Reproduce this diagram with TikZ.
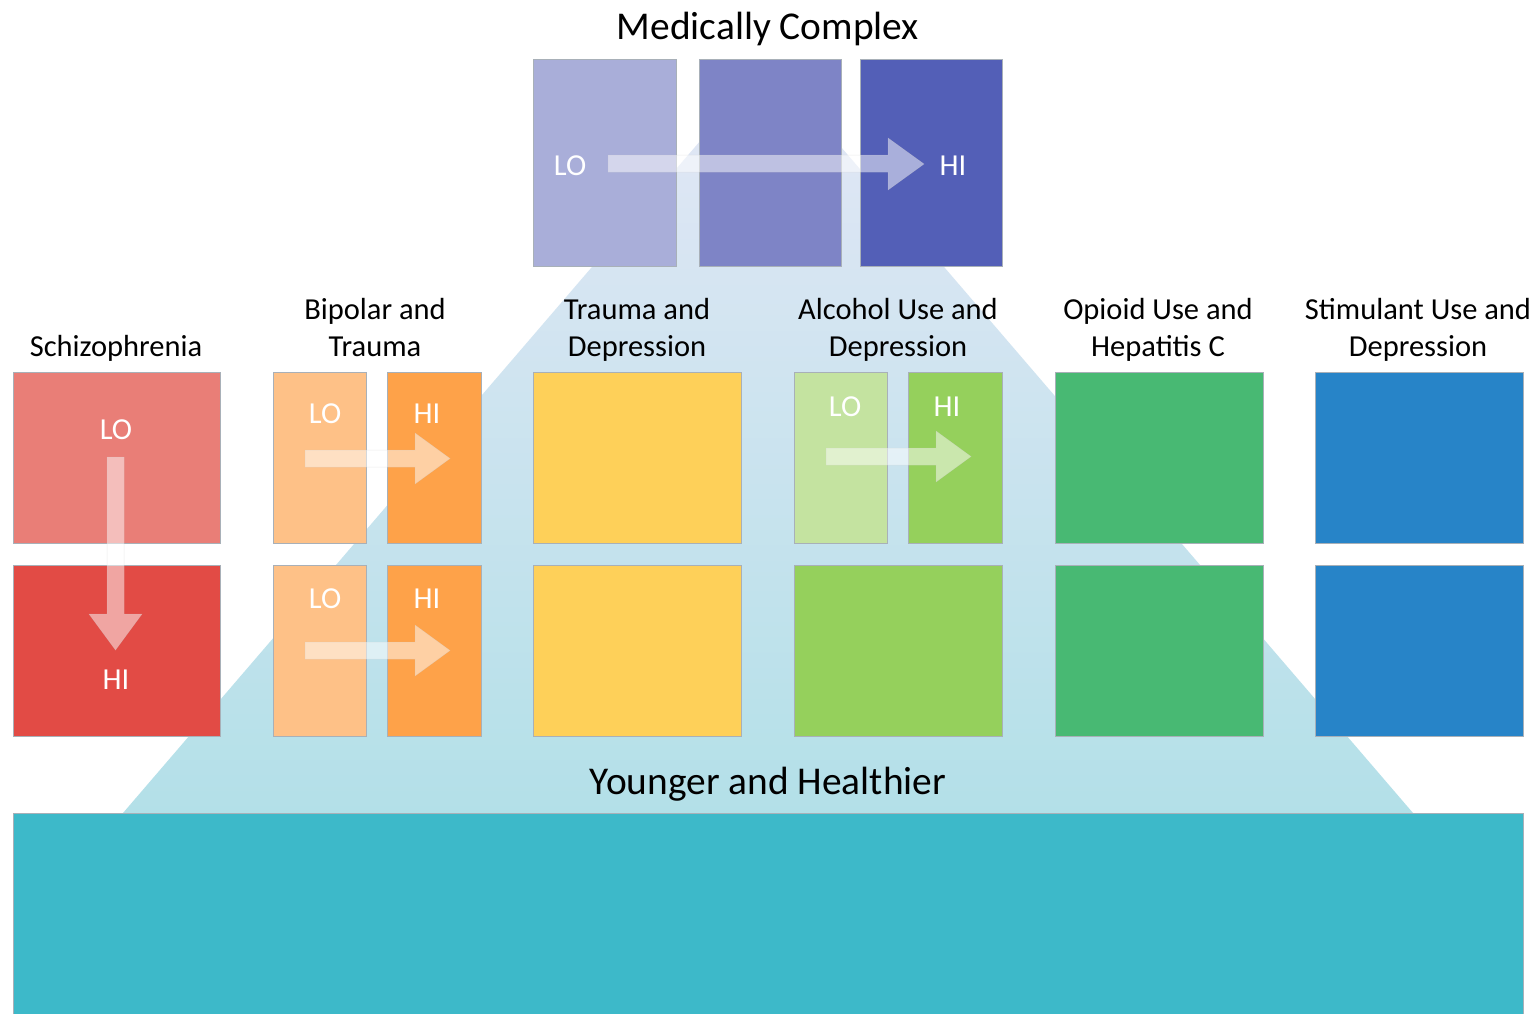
\documentclass[tikz,border=0pt]{standalone}
\usepackage{fontspec}
\setmainfont{Carlito}
\definecolor{mcA}{HTML}{A9AED9}
\definecolor{mcB}{HTML}{7E84C6}
\definecolor{mcC}{HTML}{535FB7}
\definecolor{schLo}{HTML}{E97E77}
\definecolor{schHi}{HTML}{E24B45}
\definecolor{bpLo}{HTML}{FEC187}
\definecolor{bpHi}{HTML}{FEA249}
\definecolor{yel}{HTML}{FED059}
\definecolor{alLo}{HTML}{C4E3A0}
\definecolor{alHi}{HTML}{95D05C}
\definecolor{opi}{HTML}{48B973}
\definecolor{stim}{HTML}{2784C8}
\definecolor{teal}{HTML}{3DB9C9}
\definecolor{triTop}{HTML}{E4E7F6}
\definecolor{triBot}{HTML}{B3E0E8}
\definecolor{edge}{HTML}{A8B0B8}
\begin{document}
\begin{tikzpicture}[x=1pt,y=-1pt,
  box/.style={draw=edge,line width=0.8pt,inner sep=0pt,outer sep=0pt,anchor=north west},
  lbl/.style={font=\fontsize{30.5}{37}\selectfont,align=center,text=black,inner sep=0pt},
  big/.style={font=\fontsize{39.4}{46}\selectfont,text=black,inner sep=0pt},
  lohi/.style={font=\fontsize{30.5}{34}\selectfont,text=white,inner sep=0pt},
  blockarrow/.style={fill=white,fill opacity=0.5,draw=gray!40,draw opacity=0.35,line width=0.5pt}]
\useasboundingbox (0,0) rectangle (1536,1014);
\fill[white] (0,0) rectangle (1536,1014);
% pyramid
\shade[top color=triTop,bottom color=triBot] (768,62) -- (1413,813) -- (123,813) -- cycle;
% base
\node[box,draw=edge,fill=teal,minimum width=1510pt,minimum height=201pt] (base) at (13,813) {};
% Medically complex
\node[box,fill=mcA,minimum width=143pt,minimum height=207pt] (mc1) at (533,59) {};
\node[box,fill=mcB,minimum width=142pt,minimum height=207pt] (mc2) at (699,59) {};
\node[box,fill=mcC,minimum width=142pt,minimum height=207pt] (mc3) at (860,59) {};
% Schizophrenia
\node[box,fill=schLo,minimum width=207pt,minimum height=171pt] (s1) at (13,372) {};
\node[box,fill=schHi,minimum width=207pt,minimum height=171pt] (s2) at (13,565) {};
% Bipolar
\node[box,fill=bpLo,minimum width=93pt,minimum height=171pt] (b1) at (273,372) {};
\node[box,fill=bpHi,minimum width=94pt,minimum height=171pt] (b2) at (387,372) {};
\node[box,fill=bpLo,minimum width=93pt,minimum height=171pt] (b3) at (273,565) {};
\node[box,fill=bpHi,minimum width=94pt,minimum height=171pt] (b4) at (387,565) {};
% Trauma
\node[box,fill=yel,minimum width=208pt,minimum height=171pt] (t1) at (533,372) {};
\node[box,fill=yel,minimum width=208pt,minimum height=171pt] (t2) at (533,565) {};
% Alcohol
\node[box,fill=alLo,minimum width=93pt,minimum height=171pt] (a1) at (794,372) {};
\node[box,fill=alHi,minimum width=94pt,minimum height=171pt] (a2) at (908,372) {};
\node[box,fill=alHi,minimum width=208pt,minimum height=171pt] (a3) at (794,565) {};
% Opioid
\node[box,fill=opi,minimum width=208pt,minimum height=171pt] (o1) at (1055,372) {};
\node[box,fill=opi,minimum width=208pt,minimum height=171pt] (o2) at (1055,565) {};
% Stimulant
\node[box,fill=stim,minimum width=208pt,minimum height=171pt] (st1) at (1315,372) {};
\node[box,fill=stim,minimum width=208pt,minimum height=171pt] (st2) at (1315,565) {};
% block arrows
\path[blockarrow] (608,155) -- (888,155) -- (888,138) -- (924,164) -- (888,190) -- (888,172) -- (608,172) -- cycle;
\path[blockarrow] (107,457) -- (124,457) -- (124,614) -- (142,614) -- (115.5,650) -- (89,614) -- (107,614) -- cycle;
\path[blockarrow] (305,450) -- (415,450) -- (415,433) -- (450,458.5) -- (415,484) -- (415,467) -- (305,467) -- cycle;
\path[blockarrow] (305,642) -- (415,642) -- (415,625) -- (450,650.5) -- (415,676) -- (415,659) -- (305,659) -- cycle;
\path[blockarrow] (826,448) -- (936,448) -- (936,431) -- (971,456.5) -- (936,482) -- (936,465) -- (826,465) -- cycle;
% LO / HI labels
\node[lohi] (mclo) at (570,166) {LO};
\node[lohi] (mchi) at (953,166) {HI};
\node[lohi] (slo) at (116,430) {LO};
\node[lohi] (shi) at (116,680) {HI};
\node[lohi] (blo1) at (325,414) {LO};
\node[lohi] (bhi1) at (427,414) {HI};
\node[lohi] (blo2) at (325,599) {LO};
\node[lohi] (bhi2) at (427,599) {HI};
\node[lohi] (alo) at (845,407) {LO};
\node[lohi] (ahi) at (947,407) {HI};
% titles
\node[big] (top) at (768,29) {Medically Complex};
\node[big] (bot) at (768,784) {Younger and Healthier};
\node[lbl] (ls) at (116,348) {Schizophrenia};
\node[lbl] (lb) at (375,327.5) {Bipolar and\\Trauma};
\node[lbl] (lt) at (637,330) {Trauma and\\Depression};
\node[lbl] (la) at (898,330) {Alcohol Use and\\Depression};
\node[lbl] (lo) at (1158,330) {Opioid Use and\\Hepatitis C};
\node[lbl] (lst) at (1418,330) {Stimulant Use and\\Depression};
\end{tikzpicture}
\end{document}
